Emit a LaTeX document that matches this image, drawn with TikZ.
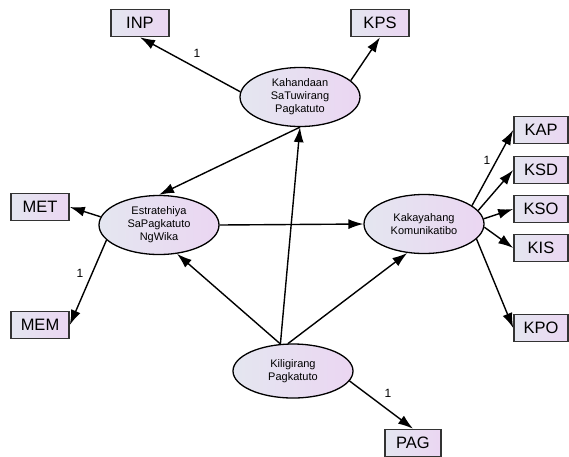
\documentclass[tikz,border=0pt]{standalone}
\usepackage{fontspec}
\setmainfont{Liberation Sans}
\usetikzlibrary{arrows.meta,shapes.geometric}
\definecolor{shadeL}{HTML}{E4E6F0}
\definecolor{shadeR}{HTML}{EBD6F2}
\begin{document}
\begin{tikzpicture}[x=1pt,y=-1pt,
    obs/.style={draw=black!80, line width=1.6pt, left color=shadeL, right color=shadeR,
      minimum width=58pt, minimum height=27pt, inner sep=0pt, font=\fontsize{16.5}{16}\selectfont},
    lat/.style={ellipse, draw=black, line width=1.3pt, left color=shadeL, right color=shadeR,
      minimum width=120pt, minimum height=59pt, inner sep=0pt, align=center,
      font=\fontsize{11}{13}\selectfont},
    reg/.style={-{Latex[length=15pt,width=10pt]}, line width=1.4pt},
    one/.style={font=\fontsize{12}{12}\selectfont}]
  \useasboundingbox (0,0) rectangle (569,456);
  % latent variables
  \node[lat] (kh) at (300,97) {Kahandaan\\SaTuwirang\\Pagkatuto};
  \node[lat] (est) at (159,225) {Estratehiya\\SaPagkatuto\\NgWika};
  \node[lat] (kk) at (424,224) {Kakayahang\\Komunikatibo};
  \node[lat, minimum height=54pt] (kl) at (293,371) {Kiligirang\\Pagkatuto};
  % observed variables
  \node[obs] (inp) at (140,23) {INP};
  \node[obs] (kps) at (380,23) {KPS};
  \node[obs] (met) at (40,207) {MET};
  \node[obs] (mem) at (40,325) {MEM};
  \node[obs, minimum width=54pt] (kap) at (541,130) {KAP};
  \node[obs, minimum width=54pt] (ksd) at (541,170) {KSD};
  \node[obs, minimum width=54pt] (kso) at (541,209) {KSO};
  \node[obs, minimum width=54pt] (kis) at (541,248) {KIS};
  \node[obs, minimum width=54pt] (kpo) at (541,328) {KPO};
  \node[obs, minimum width=56pt] (pag) at (413,443) {PAG};
  % paths
  \draw[reg] (kh.175) -- (inp.south);
  \draw[reg] (kh.18) -- (kps.south);
  \draw[reg] (kh.south) -- (est.north);
  \draw[reg] (kl.115) -- (kh.south);
  \draw[reg] (kl.115) -- (est.-58);
  \draw[reg] (kl.100) -- (kk.-120);
  \draw[reg] (est.east) -- (kk.west);
  \draw[reg] (est.172) -- (met.east);
  \draw[reg] (est.-164) -- (mem.east);
  \draw[reg] (kk.21) -- (kap.west);
  \draw[reg] (kk.14) -- (ksd.west);
  \draw[reg] (kk.5) -- (kso.west);
  \draw[reg] (kk.-3) -- (kis.west);
  \draw[reg] (kk.-16) -- (kpo.west);
  \draw[reg] (kl.-10) -- (pag.north);
  % fixed loadings
  \node[one] (w1) at (197,53) {1};
  \node[one] (w2) at (80,273) {1};
  \node[one] (w3) at (487,160) {1};
  \node[one] (w4) at (388,393) {1};
\end{tikzpicture}
\end{document}
